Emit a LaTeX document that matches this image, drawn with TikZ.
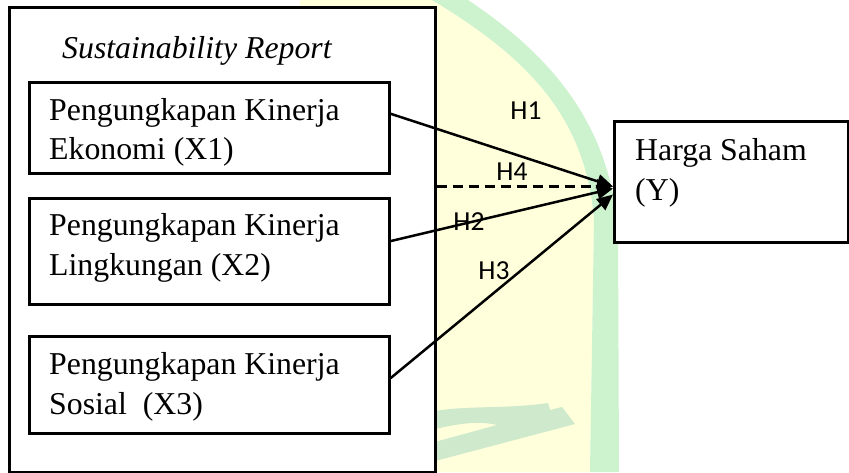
\documentclass[tikz,border=0pt]{standalone}
\usepackage{fontspec}
\setmainfont{Liberation Serif}
\newfontfamily\hfont{Carlito}
\usetikzlibrary{arrows.meta,calc}
\definecolor{wmyellow}{RGB}{255,255,219}
\definecolor{wmgreen}{RGB}{204,242,206}
\definecolor{wmgreentwo}{RGB}{206,233,204}
\begin{document}
\begin{tikzpicture}[x=1pt,y=-1pt,
  box/.style={draw=black,line width=2.6pt,fill=white,inner sep=0pt,anchor=north west},
  txt/.style={anchor=base west,inner sep=0pt,font=\fontsize{31.8}{38}\selectfont},
  hyp/.style={inner sep=0pt,font=\hfont\fontsize{27.5}{30}\selectfont},
  conn/.style={line width=2.5pt,-{Triangle[length=16pt,width=14pt]}},
]
\useasboundingbox (0,0) rectangle (849,472);
% watermark
\fill[wmyellow] (300,0) -- (432,0) .. controls (532,60) and (586,120) .. (594,220) -- (590,472) -- (300,472) -- cycle;
\fill[wmgreen] (432,0) -- (468,0) .. controls (558,60) and (610,130) .. (618,230) -- (619,472) -- (590,472) -- (594,220) .. controls (586,120) and (532,60) .. (432,0) -- cycle;
\fill[wmgreentwo] (420,414) .. controls (460,404) and (500,410) .. (548,403) -- (550,410) -- (562,407) -- (575,424) -- (420,465) -- (420,446) -- (497,425) .. controls (480,421) and (460,422) .. (420,433) -- cycle;
% boxes
\node[box,minimum width=426pt,minimum height=465pt] (outer) at (8,6) {};
\node[box,minimum width=360pt,minimum height=91pt] (b1) at (28,81) {};
\node[box,minimum width=360pt,minimum height=106pt] (b2) at (28,197) {};
\node[box,minimum width=360pt,minimum height=97pt] (b3) at (28,335) {};
\node[box,minimum width=234pt,minimum height=121pt] (yb) at (613,120) {};
% texts
\node[txt,font=\fontsize{31.8}{38}\selectfont\itshape] (title) at (62,58) {Sustainability Report};
\node[txt] (t1a) at (49,120) {Pengungkapan Kinerja};
\node[txt] (t1b) at (49,159) {Ekonomi (X1)};
\node[txt] (t2a) at (49,235) {Pengungkapan Kinerja};
\node[txt] (t2b) at (49,275) {Lingkungan (X2)};
\node[txt] (t3a) at (49,374) {Pengungkapan Kinerja};
\node[txt] (t3b) at (49,414) {Sosial~~(X3)};
\node[txt] (tya) at (635,160) {Harga Saham};
\node[txt] (tyb) at (635,200) {(Y)};
% connectors
\coordinate (s1) at ($(b1.north east)!0.35!(b1.south east)$);
\coordinate (s2) at ($(b2.north east)!0.406!(b2.south east)$);
\coordinate (s3) at ($(b3.north east)!0.433!(b3.south east)$);
\coordinate (e1) at ($(yb.north west)!0.537!(yb.south west)$);
\coordinate (e2) at ($(yb.north west)!0.554!(yb.south west)$);
\coordinate (e3) at ($(yb.north west)!0.603!(yb.south west)$);
\coordinate (s4) at (outer.east |- e1);
\draw[conn,dash pattern=on 10pt off 6pt] (s4) -- (e1);
\draw[conn] (s1) -- (e1);
\draw[conn] (s2) -- (e2);
\draw[conn] (s3) -- (e3);
% labels
\node[hyp] (h1) at (526,111) {H1};
\node[hyp] (h4) at (512,172) {H4};
\node[hyp] (h2) at (469,222) {H2};
\node[hyp] (h3) at (494,271) {H3};
\end{tikzpicture}
\end{document}
